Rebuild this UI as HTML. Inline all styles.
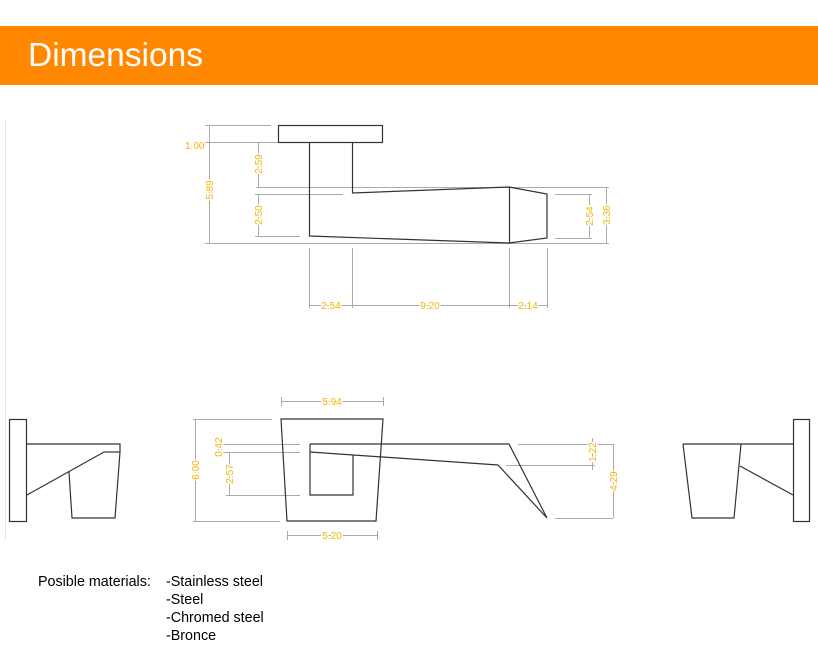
<!DOCTYPE html>
<html><head><meta charset="utf-8"><style>
html,body{margin:0;padding:0;background:#fff;width:818px;height:665px;overflow:hidden;font-family:"Liberation Sans",Arial,sans-serif}
</style></head><body>
<svg width="818" height="665" viewBox="0 0 818 665" xmlns="http://www.w3.org/2000/svg" style="position:absolute;left:0;top:0">
<rect x="0" y="26" width="818" height="59" fill="#FF8800"/>
<text x="28" y="66" font-family="Liberation Sans, sans-serif" font-size="33.5" fill="#fff">Dimensions</text>
<line x1="5.5" y1="120" x2="5.5" y2="540" stroke="#e6e6e6" stroke-width="1"/>

<g stroke="#aaa" stroke-width="1" fill="none">
<line x1="205" y1="125.5" x2="271" y2="125.5"/>
<line x1="205" y1="142.5" x2="278" y2="142.5"/>
<line x1="205" y1="243.5" x2="609" y2="243.5"/>
<line x1="256" y1="187.5" x2="609" y2="187.5"/>
<line x1="209.5" y1="125" x2="209.5" y2="243"/>
<line x1="258.5" y1="142" x2="258.5" y2="187"/>
<line x1="258.5" y1="194" x2="258.5" y2="236"/>
<line x1="255" y1="194.5" x2="343" y2="194.5"/>
<line x1="255" y1="236.5" x2="300" y2="236.5"/>
<line x1="555" y1="194.5" x2="592" y2="194.5"/>
<line x1="555" y1="238.5" x2="592" y2="238.5"/>
<line x1="589.5" y1="194" x2="589.5" y2="238"/>
<line x1="606.5" y1="187" x2="606.5" y2="243"/>
<line x1="309.5" y1="248" x2="309.5" y2="308"/>
<line x1="352.5" y1="248" x2="352.5" y2="308"/>
<line x1="509.5" y1="248" x2="509.5" y2="308"/>
<line x1="547.5" y1="248" x2="547.5" y2="308"/>
<line x1="309" y1="305.5" x2="547" y2="305.5"/>
<line x1="281" y1="401.5" x2="383" y2="401.5"/>
<line x1="281.5" y1="397" x2="281.5" y2="406"/>
<line x1="383.5" y1="397" x2="383.5" y2="406"/>
<line x1="193" y1="419.5" x2="272" y2="419.5"/>
<line x1="193" y1="521.5" x2="280" y2="521.5"/>
<line x1="195.5" y1="419" x2="195.5" y2="521"/>
<line x1="214" y1="444.5" x2="300" y2="444.5"/>
<line x1="214" y1="452.5" x2="300" y2="452.5"/>
<line x1="226" y1="495.5" x2="300" y2="495.5"/>
<line x1="229.5" y1="452" x2="229.5" y2="495"/>
<line x1="218.5" y1="438" x2="218.5" y2="452"/>
<line x1="287" y1="535.5" x2="377" y2="535.5"/>
<line x1="287.5" y1="531" x2="287.5" y2="540"/>
<line x1="377.5" y1="531" x2="377.5" y2="540"/>
<line x1="518" y1="444.5" x2="613" y2="444.5"/>
<line x1="506" y1="465.5" x2="595" y2="465.5"/>
<line x1="555" y1="518.5" x2="613" y2="518.5"/>
<line x1="592.5" y1="438" x2="592.5" y2="470"/>
<line x1="613.5" y1="444" x2="613.5" y2="518"/>
</g>

<g stroke="#333" stroke-width="1.2" fill="none">
<rect x="278.5" y="125.5" width="104" height="17"/>
<polyline points="309.5,142 309.5,236 509,243 547,238 547,194 509,187 352.5,193 352.5,142"/>
<line x1="509.5" y1="187" x2="509.5" y2="243"/>
<polygon points="281,419 383,419 376,521 287,521"/>
<polyline points="310,444 509,444 547,518 498,465 310,452"/>
<polyline points="310,444 310,495 353,495 353,455"/>
<rect x="9.5" y="419.5" width="17" height="102"/>
<polyline points="27,444 120,444 120,452 115,518 72,518 69,472"/>
<line x1="104" y1="452" x2="120" y2="452"/>
<line x1="27" y1="495" x2="104" y2="452"/>
<rect x="793.5" y="419.5" width="16" height="102"/>
<line x1="683" y1="444" x2="793" y2="444"/>
<polyline points="683,444 692,518 734,518 741,444"/>
<line x1="740" y1="466" x2="793" y2="495"/>
</g>

<g font-family="Liberation Sans, sans-serif" font-size="10" fill="#F5B400" stroke="#fff" stroke-width="3" paint-order="stroke">
<text x="185" y="149">1.00</text>
<text transform="translate(213,190) rotate(-90)" text-anchor="middle">5.89</text>
<text transform="translate(262,164) rotate(-90)" text-anchor="middle">2.59</text>
<text transform="translate(262,215) rotate(-90)" text-anchor="middle">2.50</text>
<text transform="translate(593,216) rotate(-90)" text-anchor="middle">2.54</text>
<text transform="translate(610,215) rotate(-90)" text-anchor="middle">3.36</text>
<text x="331" y="309" text-anchor="middle">2.54</text>
<text x="430" y="309" text-anchor="middle">9.20</text>
<text x="528" y="309" text-anchor="middle">2.14</text>
<text x="332" y="405" text-anchor="middle">5.94</text>
<text transform="translate(199,470) rotate(-90)" text-anchor="middle">6.00</text>
<text transform="translate(222,447) rotate(-90)" text-anchor="middle">0.42</text>
<text transform="translate(233,474) rotate(-90)" text-anchor="middle">2.57</text>
<text x="332" y="539" text-anchor="middle">5.20</text>
<text transform="translate(596,452) rotate(-90)" text-anchor="middle">1.22</text>
<text transform="translate(617,481) rotate(-90)" text-anchor="middle">4.29</text>
</g>

<g font-family="Liberation Sans, sans-serif" font-size="14.3" fill="#000">
<text x="38" y="586">Posible materials:</text>
<text x="166" y="586">-Stainless steel</text>
<text x="166" y="604">-Steel</text>
<text x="166" y="622">-Chromed steel</text>
<text x="166" y="640">-Bronce</text>
</g>
</svg>
</body></html>
